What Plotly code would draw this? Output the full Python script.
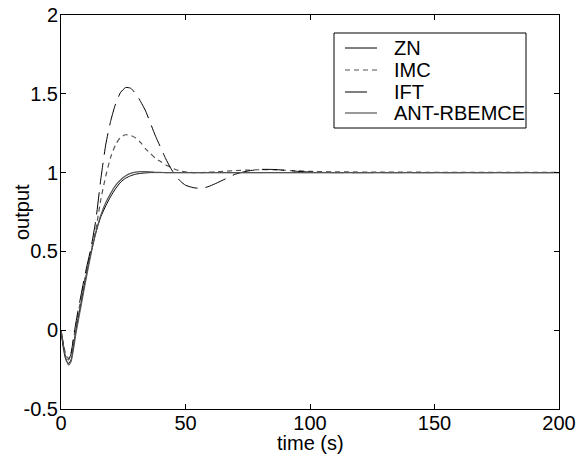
import plotly.graph_objects as go

# ---- data ----
time = [0, 1, 2, 3, 4, 5, 6, 8, 10, 12, 14, 16, 18, 20, 22, 24, 26, 28, 30, 32, 34, 36, 38, 40,
        42, 44, 46, 48, 50, 53, 56, 59, 62, 66, 70, 75, 80, 85, 90, 95, 100, 110, 130, 160, 200]

zn = [0, -0.12, -0.19, -0.21, -0.19, -0.10, 0.0, 0.17, 0.34, 0.49, 0.62, 0.72, 0.79, 0.85, 0.90,
      0.94, 0.965, 0.98, 0.99, 0.995, 0.998, 1.0, 1.0, 1.0,
      1.0, 1.0, 1.0, 1.0, 1.0, 1.0, 1.0, 1.0, 1.0, 1.0, 1.0, 1.0, 1.0, 1.0, 1.0, 1.0, 1.0, 1.0, 1.0, 1.0, 1.0]

imc = [0, -0.09, -0.16, -0.18, -0.15, -0.06, 0.03, 0.20, 0.36, 0.50, 0.64, 0.83, 0.98, 1.10, 1.18,
       1.225, 1.24, 1.235, 1.22, 1.19, 1.15, 1.12, 1.09, 1.07,
       1.05, 1.035, 1.02, 1.01, 1.005, 1.0, 1.0, 1.002, 1.005, 1.009, 1.013, 1.016, 1.018, 1.018,
       1.015, 1.011, 1.008, 1.005, 1.003, 1.002, 1.002]

ift = [0, -0.10, -0.17, -0.19, -0.15, -0.05, 0.05, 0.22, 0.38, 0.52, 0.70, 0.96, 1.18, 1.33, 1.44,
       1.51, 1.54, 1.535, 1.50, 1.45, 1.39, 1.31, 1.23, 1.16,
       1.09, 1.03, 0.98, 0.945, 0.92, 0.905, 0.90, 0.91, 0.93, 0.96, 0.99, 1.01, 1.02, 1.02,
       1.015, 1.008, 1.003, 1.0, 1.0, 1.0, 1.0]

ant = [0, -0.10, -0.18, -0.22, -0.20, -0.12, -0.02, 0.15, 0.32, 0.48, 0.62, 0.73, 0.81, 0.87, 0.92,
       0.955, 0.98, 0.995, 1.003, 1.006, 1.006, 1.004, 1.002, 1.001,
       1.0, 1.0, 1.0, 1.0, 1.0, 1.0, 1.0, 1.0, 1.0, 1.0, 1.0, 1.0, 1.0, 1.0, 1.0, 1.0, 1.0, 1.0, 1.0, 1.0, 1.0]

series_names = ["ZN", "IMC", "IFT", "ANT-RBEMCE"]
series_values = [zn, imc, ift, ant]

x_ticks = [0, 50, 100, 150, 200]
y_ticks = [-0.5, 0, 0.5, 1, 1.5, 2]
y_tick_labels = ["-0.5", "0", "0.5", "1", "1.5", "2"]

FONT = "Liberation Sans, Arial, sans-serif"
FS = 20

styles = [
    dict(color="#000000", width=1, dash="solid"),
    dict(color="#555555", width=1.2, dash="5px,4px"),
    dict(color="#000000", width=1, dash="22px,8px"),
    dict(color="#555555", width=1.2, dash="solid"),
]
legend_len = [32, 32, 22, 32]

fig = go.Figure()
for name, vals, st in zip(series_names, series_values, styles):
    fig.add_trace(go.Scatter(x=time, y=vals, name=name, mode="lines", showlegend=False,
                             line=dict(color=st["color"], width=st["width"], dash=st["dash"],
                                       shape="spline", smoothing=0.6)))

# ---- plot geometry (pixels) ----
W, H = 576, 459
L, R, T, B = 61, 17, 15, 50
PW, PH = W - L - R, H - T - B


def px(xp):
    return (xp - L) / PW


def py(yp):
    return (H - B - yp) / PH


# ---- legend box drawn by hand to match the reference ----
shapes = [dict(type="rect", xref="paper", yref="paper",
               x0=px(334), x1=px(526), y0=py(128), y1=py(33),
               line=dict(color="black", width=1), fillcolor="white", layer="above")]
annotations = []
row_y = [48, 70, 92, 113]
for name, st, ry, ln in zip(series_names, styles, row_y, legend_len):
    shapes.append(dict(type="line", xref="paper", yref="paper",
                       x0=px(345), x1=px(345 + ln), y0=py(ry), y1=py(ry), layer="above",
                       line=dict(color=st["color"], width=st["width"], dash=st["dash"])))
    annotations.append(dict(text=name, xref="paper", yref="paper", x=px(392), y=py(ry),
                            xanchor="left", yanchor="middle", showarrow=False,
                            font=dict(family=FONT, size=FS, color="black")))

# axis titles
annotations.append(dict(text="time (s)", xref="paper", yref="paper", x=0.5, y=py(443),
                        xanchor="center", yanchor="middle", showarrow=False,
                        font=dict(family=FONT, size=FS, color="black")))
annotations.append(dict(text="output", xref="paper", yref="paper", x=px(22), y=0.5,
                        xanchor="center", yanchor="middle", showarrow=False, textangle=-90,
                        font=dict(family=FONT, size=FS, color="black")))

axis_common = dict(showline=True, linecolor="black", linewidth=1, mirror="ticks",
                   ticks="inside", ticklen=5, tickcolor="black", showgrid=False, zeroline=False,
                   automargin=False,
                   tickfont=dict(family=FONT, size=FS, color="black"))

fig.update_layout(
    width=W, height=H,
    margin=dict(l=L, r=R, t=T, b=B),
    paper_bgcolor="white", plot_bgcolor="white",
    font=dict(family=FONT, size=FS, color="black"),
    xaxis=dict(range=[0, 200], tickvals=x_ticks, ticktext=[str(v) for v in x_ticks],
               ticklabelstandoff=-4, **axis_common),
    yaxis=dict(range=[-0.5, 2], tickvals=y_ticks, ticktext=y_tick_labels,
               ticklabelstandoff=-2, **axis_common),
    shapes=shapes,
    annotations=annotations,
    showlegend=False,
)

fig.write_html("out.html", config={"displayModeBar": False},
               post_script="document.body.style.margin='0';document.body.style.overflow='hidden';")
